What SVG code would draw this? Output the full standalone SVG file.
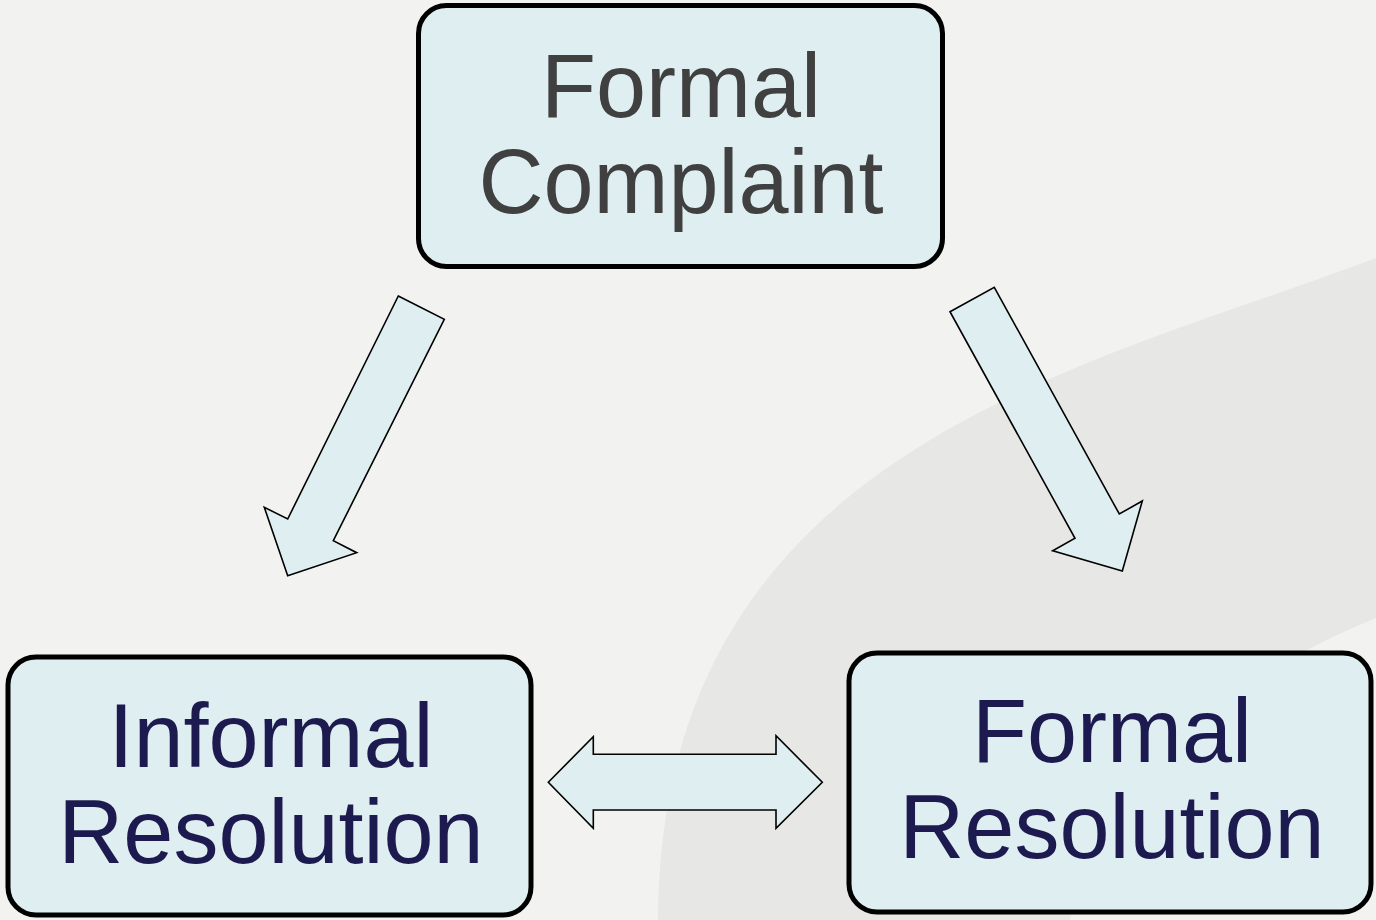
<svg xmlns="http://www.w3.org/2000/svg" width="1376" height="920" viewBox="0 0 1376 920">
  <style>
    .box { fill: #dfeef1; stroke: #000; stroke-width: 5; }
    .arrow { fill: #dfeef1; stroke: #000; stroke-width: 1.6; stroke-linejoin: miter; }
    .label { font-family: "Liberation Sans", Arial, sans-serif; font-size: 90px; text-anchor: middle; }
    .dark { fill: #404040; }
    .navy { fill: #1c1a4e; }
  </style>

  <!-- backdrop with a soft swoosh band -->
  <rect x="0" y="0" width="1376" height="920" fill="#f2f2f0"/>
  <path d="M1376,258 C1080,370 660,450 658,920 L1070,920 C1090,800 1200,690 1376,618 Z" fill="#e7e7e5"/>

  <!-- connectors -->
  <g id="connectors">
    <polygon class="arrow" points="398.3,296 444.3,319.3 333.3,540.7 356.7,552.7 287.7,575.7 264.3,507.3 287.7,519"/>
    <polygon class="arrow" points="950,311.7 994.3,287.3 1119.3,514 1142.3,501 1122.3,571 1052.7,550.7 1075,538.3"/>
    <polygon class="arrow" points="548.3,782.3 593.3,736.7 593.3,754.3 776,754.3 776,735.7 822.3,782.3 776,828.3 776,810 593.3,810 593.3,828.3"/>
  </g>

  <!-- nodes -->
  <g id="formal-complaint">
    <rect class="box" x="418.5" y="5.5" width="524" height="261" rx="28"/>
    <text class="label dark" x="681" y="117">Formal</text>
    <text class="label dark" x="681" y="213">Complaint</text>
  </g>

  <g id="informal-resolution">
    <rect class="box" x="8" y="657" width="523" height="258" rx="28"/>
    <text class="label navy" x="271" y="767">Informal</text>
    <text class="label navy" x="271" y="863">Resolution</text>
  </g>

  <g id="formal-resolution">
    <rect class="box" x="849" y="653" width="522" height="259" rx="28"/>
    <text class="label navy" x="1112" y="762">Formal</text>
    <text class="label navy" x="1112" y="858">Resolution</text>
  </g>
</svg>
